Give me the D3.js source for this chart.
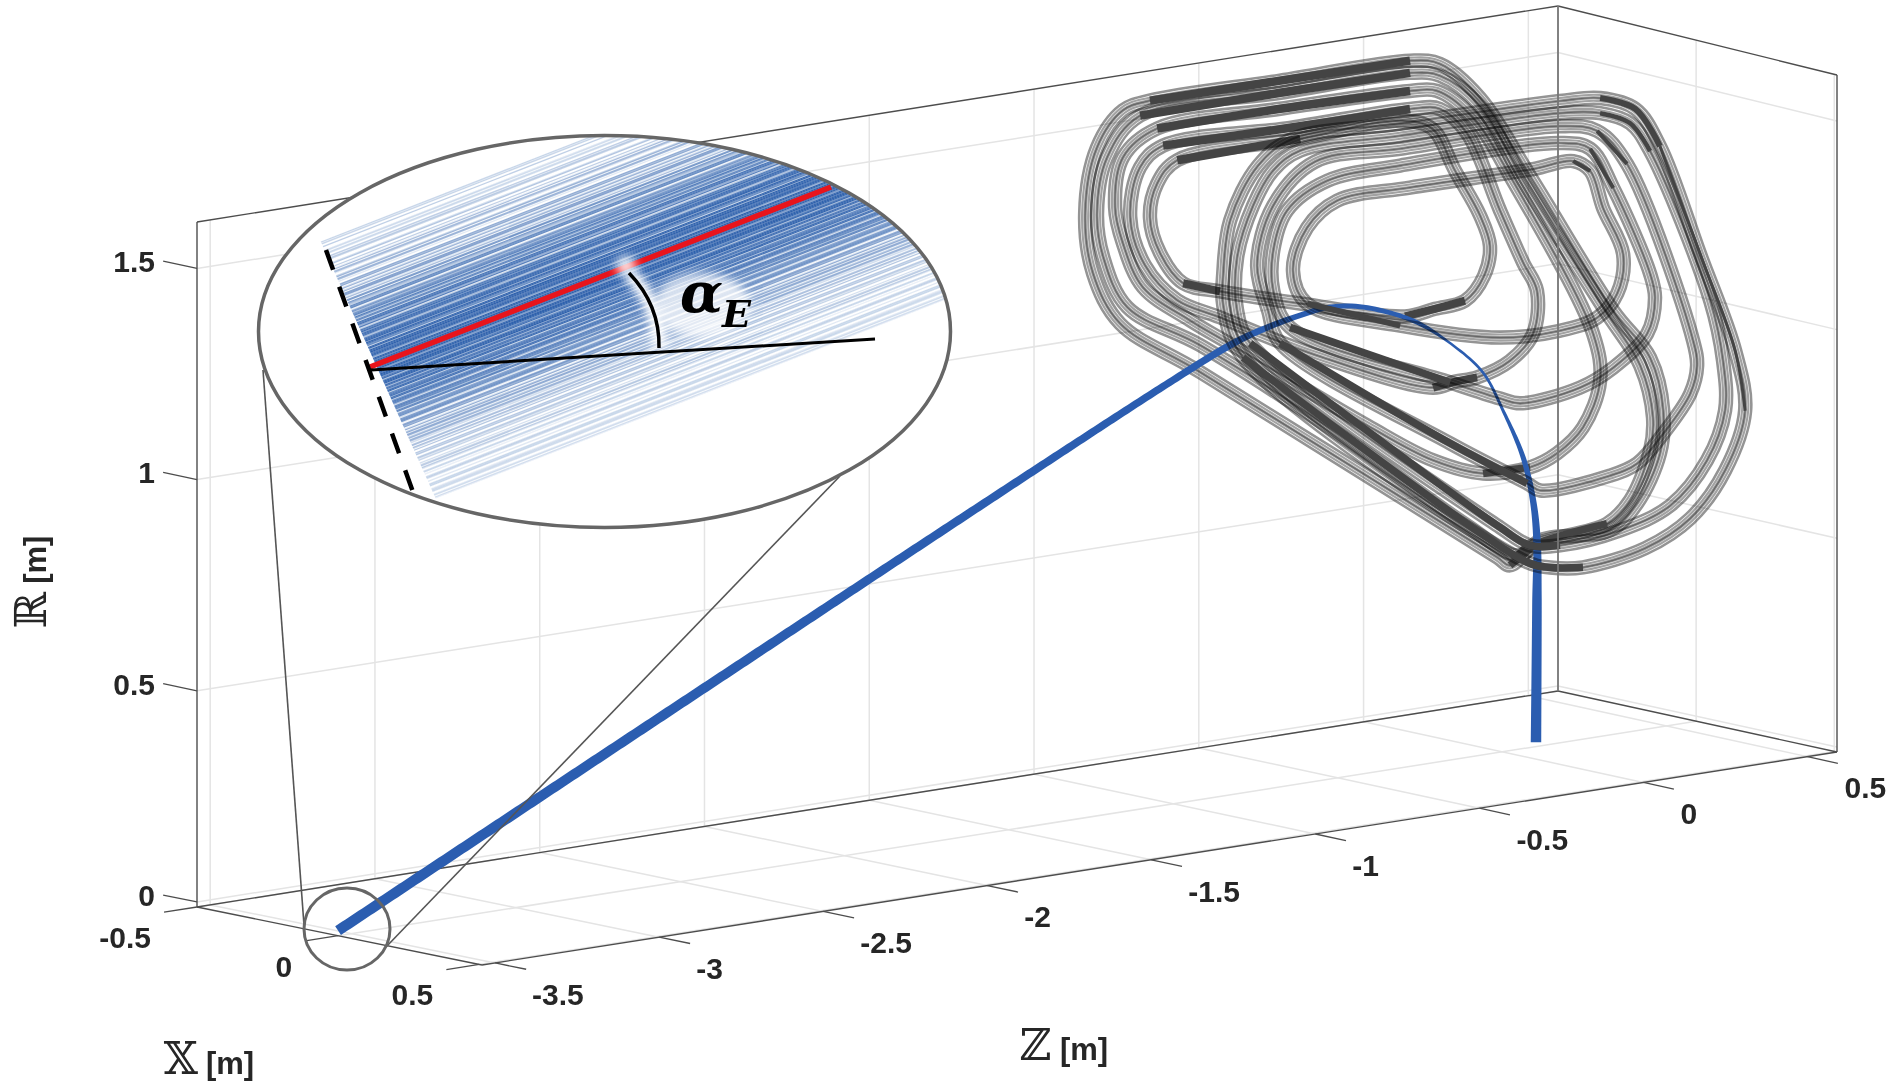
<!DOCTYPE html>
<html>
<head>
<meta charset="utf-8">
<script src="https://cdn.jsdelivr.net/npm/d3@7"></script>
<style>
  html, body { margin: 0; background: #fff; }
  text { font-family: "Liberation Sans", Arial, sans-serif; font-weight: bold; fill: #262626; }
</style>
</head>
<body>
<div id="chart"></div>
<script>
const width = 1891;
const height = 1088;

// axis ticks
const xTicks = [-0.5, 0, 0.5];
const zTicks = [-3.5, -3, -2.5, -2, -1.5, -1, -0.5, 0, 0.5];
const rTicks = [0, 0.5, 1, 1.5];

// beam centre line, plane x = 0
const beamZ = [-3.54, -1.049, -0.818, -0.721, -0.614, -0.532, -0.432, -0.271, -0.149, -0.058, 0.003, 0.064, 0.094, 0.106, 0.106, 0.103];
const beamR = [0, 0.978, 1.061, 1.085, 1.103, 1.111, 1.101, 1.048, 0.974, 0.898, 0.8, 0.681, 0.575, 0.478, 0.336, -0.002];

// coil set behind, innermost first
const back1Z = [-0.988, -0.614, -0.31, -0.213, -0.143, -0.067, -0.037, -0.055, -0.113, -0.204, -0.295, -0.614, -0.858, -0.97, -1.04, -1.071, -1.049];
const back1R = [1.518, 1.523, 1.529, 1.498, 1.389, 1.273, 1.197, 1.128, 1.076, 1.068, 1.061, 1.131, 1.19, 1.223, 1.303, 1.392, 1.47];
const back2Z = [-1.031, -0.645, -0.28, -0.189, -0.106, -0.006, 0.064, 0.106, 0.094, 0.024, -0.076, -0.143, -0.21, -0.563, -0.858, -0.988, -1.086, -1.131, -1.101];
const back2R = [1.558, 1.553, 1.553, 1.542, 1.473, 1.277, 1.145, 1.073, 0.972, 0.916, 0.889, 0.887, 0.881, 1.001, 1.128, 1.185, 1.28, 1.4, 1.515];
const back3Z = [-1.049, -0.675, -0.28, -0.198, -0.088, 0.033, 0.277, 0.298, 0.246, 0.167, 0.085, -0.058, -0.21, -0.411, -0.836, -0.949, -1.092, -1.153, -1.177, -1.153];
const back3R = [1.601, 1.602, 1.596, 1.586, 1.508, 1.343, 0.949, 0.835, 0.73, 0.678, 0.655, 0.658, 0.708, 0.816, 1.066, 1.132, 1.228, 1.34, 1.429, 1.545];
const back4Z = [-1.101, -0.675, -0.28, -0.189, -0.067, 0.064, 0.313, 0.42, 0.459, 0.45, 0.389, 0.319, 0.116, 0.046, -0.106, -0.514, -0.918, -1.14, -1.213, -1.232, -1.201];
const back4R = [1.638, 1.64, 1.639, 1.621, 1.534, 1.34, 1, 0.856, 0.727, 0.65, 0.539, 0.492, 0.472, 0.45, 0.54, 0.817, 1.069, 1.187, 1.315, 1.421, 1.551];
const back5Z = [-1.071, -0.675, -0.28, -0.189, -0.067, 0.094, 0.338, 0.45, 0.49, 0.48, 0.411, 0.328, 0.116, 0.024, -0.015, -0.918, -1.162, -1.244, -1.268, -1.232, -1.153];
const back5R = [1.67, 1.669, 1.668, 1.649, 1.553, 1.336, 0.997, 0.871, 0.74, 0.639, 0.529, 0.475, 0.477, 0.429, 0.453, 1.005, 1.151, 1.28, 1.426, 1.578, 1.657];

// coil set in front, innermost first
const front1Z = [-0.502, -0.28, 0.094, 0.216, 0.268, 0.307, 0.368, 0.35, 0.289, 0.176, -0.006, -0.31, -0.593, -0.636, -0.593];
const front1R = [1.362, 1.366, 1.364, 1.368, 1.338, 1.245, 1.128, 1.036, 0.986, 0.969, 0.975, 1.041, 1.128, 1.212, 1.309];
const front2Z = [-0.532, -0.31, 0.176, 0.268, 0.338, 0.45, 0.465, 0.441, 0.338, 0.237, 0.055, -0.006, -0.158, -0.645, -0.696, -0.696, -0.654];
const front2R = [1.413, 1.422, 1.416, 1.391, 1.289, 1.071, 1.012, 0.929, 0.861, 0.826, 0.811, 0.83, 0.887, 1.078, 1.172, 1.267, 1.357];
const front3Z = [-0.569, -0.31, 0.176, 0.289, 0.38, 0.581, 0.593, 0.572, 0.49, 0.411, 0.328, 0.116, 0.076, -0.158, -0.675, -0.712, -0.745, -0.696];
const front3R = [1.463, 1.462, 1.456, 1.431, 1.341, 0.895, 0.834, 0.77, 0.685, 0.624, 0.605, 0.596, 0.618, 0.742, 1.044, 1.127, 1.238, 1.374];
const front4Z = [-0.614, -0.31, 0.176, 0.298, 0.389, 0.45, 0.633, 0.672, 0.678, 0.623, 0.511, 0.359, 0.176, 0.085, -0.006, -0.766, -0.806, -0.806, -0.757, -0.696];
const front4R = [1.495, 1.493, 1.487, 1.472, 1.437, 1.363, 0.984, 0.836, 0.717, 0.605, 0.511, 0.471, 0.458, 0.469, 0.523, 1.055, 1.138, 1.264, 1.382, 1.458];
const front5Z = [-0.636, -0.31, 0.176, 0.298, 0.405, 0.48, 0.602, 0.709, 0.739, 0.678, 0.572, 0.435, 0.246, 0.146, 0.076, -0.788, -0.848, -0.848, -0.827, -0.742];
const front5R = [1.526, 1.522, 1.516, 1.508, 1.469, 1.371, 1.099, 0.855, 0.709, 0.574, 0.473, 0.419, 0.397, 0.409, 0.43, 1.024, 1.155, 1.231, 1.355, 1.475];

// point index ranges where a coil reads as a dark band: from, to, thickness
const back1Dark = [[0, 1, 8.5], [8, 10, 8], [12, 13, 8]];
const back2Dark = [[0, 2, 8.5], [10, 12, 8]];
const back3Dark = [[0, 2, 8.5], [10, 11, 7.5]];
const back4Dark = [[0, 2, 8.5], [11, 13, 7.5]];
const back5Dark = [[0, 2, 8.5], [12, 13, 7.5]];
const front1Dark = [[3, 4, 4], [11, 12, 6]];
const front2Dark = [[3, 4, 4], [12, 13, 7.5]];
const front3Dark = [[3, 4, 4], [12, 14, 7.5]];
const front4Dark = [[3, 5, 4.5], [12, 15, 7.5]];
const front5Dark = [[3, 5, 6], [5, 8, 3], [12, 15, 7.5]];

// inset: strength of each ray, from the top of the dashed line to the bottom
const rayAlpha = [
  .25, .25, .0, .0, .0, .2, .2, .0, .3, .3,
  .0, .0, .35, .0, .0, .4, .4, .1, .0, .45,
  .45, .0, .0, .5, .5, .2, .0, .45, .55, .55,
  .1, .0, .6, .6, .3, .7, .7, .15, .6, .6,
  .75, .8, .25, .7, .85, .85, .4, .1, .8, .9,
  .9, .85, .3, .9, .95, .95, .6, .2, .95, 1,
  1, .85, .95, .4, .95, 1, 1, .9, .95, 1,
  .5, 1, 1, .95, .8, .3, .95, 1, .9, .35,
  .85, .9, .2, .75, .85, .85, .15, .8, .75, .1,
  .75, .7, .7, .05, .6, .65, .1, .6, .6, .0,
  .55, .55, .15, .0, .5, .5, .0, .45, .45, .1,
  .0, .38, .38, .0, .0, .32, .32, .0, .25, .25,
  .0, .0, .3, .3, .0, .22, .0, .0, .2, .2,
  .0, .0, .22, .22, .0, .18, .18, .0, .2, .2
];
// the rays lying between those above
const rayAlphaBetween = [
  .1, .0, .3, .0, .15, .0, .2, .0, .1, .25,
  .0, .2, .0, .3, .1, .0, .35, .0, .25, .0,
  .4, .15, .0, .35, .0, .45, .2, .0, .5, .1,
  .4, .55, .0, .45, .25, .6, .0, .55, .35, .65,
  .3, .6, .7, .2, .75, .5, .8, .3, .7, .6,
  .85, .4, .75, .9, .5, .85, .7, .95, .45, .9,
  .8, .95, .6, 1, .7, .9, .5, .95, .85, .65,
  .95, .8, 1, .6, .9, .7, .95, .5, .85, .8,
  .55, .9, .7, .8, .35, .85, .6, .75, .4, .7,
  .65, .3, .7, .5, .6, .2, .55, .65, .1, .5,
  .4, .0, .5, .3, .1, .45, .3, .0, .4, .2,
  .3, .0, .25, .35, .0, .2, .0, .3, .1, .0,
  .2, .25, .0, .15, .0, .2, .1, .0, .25, .0,
  .15, .0, .2, .0, .12, .2, .0, .15, .0, .1
];

const svg = d3.select("#chart").append("svg")
  .attr("width", width)
  .attr("height", height)
  .style("display", "block");

const defs = svg.append("defs");
defs.append("filter").attr("id", "glow")
  .attr("x", "-50%").attr("y", "-50%").attr("width", "200%").attr("height", "200%")
  .append("feGaussianBlur").attr("stdDeviation", 5);
defs.append("filter").attr("id", "soft")
  .append("feGaussianBlur").attr("stdDeviation", 0.4);

// box corners on screen: floor corners and the height of each upright
const xDomain = [-0.5, 0.51];
const zDomain = [-3.54, 0.59];
const rDomain = [-0.012, 1.61];
const uScale = d3.scaleLinear().domain(xDomain).range([0, 1]);
const vScale = d3.scaleLinear().domain(zDomain).range([0, 1]);
const wScale = d3.scaleLinear().domain(rDomain).range([0, 1]);
const cornerL = { x: 197, y: 907, h: 685 };  // x min, z min
const cornerF = { x: 482, y: 965, h: 680 };  // x max, z min
const cornerB = { x: 1558, y: 691, h: 685 }; // x min, z max
const cornerR = { x: 1837, y: 752, h: 677 }; // x max, z max

function bilerp(key, u, v) {
  const a = cornerL[key] + (cornerF[key] - cornerL[key]) * u;
  const b = cornerB[key] + (cornerR[key] - cornerB[key]) * u;
  return a + (b - a) * v;
}

function project(x, z, r) {
  const u = uScale(x), v = vScale(z), w = wScale(r);
  return [bilerp("x", u, v), bilerp("y", u, v) - bilerp("h", u, v) * w];
}

const [xMin, xMax] = xDomain;
const [zMin, zMax] = zDomain;
const [rMin, rMax] = rDomain;

function seg(g, a, b, color, w) {
  return g.append("line")
    .attr("x1", a[0]).attr("y1", a[1])
    .attr("x2", b[0]).attr("y2", b[1])
    .attr("stroke", color)
    .attr("stroke-width", w);
}

// grid on the floor and the two back walls
const grid = svg.append("g");
const gridColor = "#e4e4e4";
zTicks.forEach(z => {
  seg(grid, project(xMin, z, rMin), project(xMin, z, rMax), gridColor, 1.5);
  seg(grid, project(xMin, z, rMin), project(xMax, z, rMin), gridColor, 1.5);
});
xTicks.forEach(x => {
  seg(grid, project(x, zMax, rMin), project(x, zMax, rMax), gridColor, 1.5);
  seg(grid, project(x, zMin, rMin), project(x, zMax, rMin), gridColor, 1.5);
});
rTicks.forEach(r => {
  seg(grid, project(xMin, zMin, r), project(xMin, zMax, r), gridColor, 1.5);
  seg(grid, project(xMin, zMax, r), project(xMax, zMax, r), gridColor, 1.5);
});

// box outline
const box = svg.append("g");
const boxColor = "#4d4d4d";
[
  [[xMin, zMin, rMin], [xMin, zMin, rMax]],
  [[xMin, zMin, rMax], [xMin, zMax, rMax]],
  [[xMin, zMax, rMax], [xMax, zMax, rMax]],
  [[xMax, zMax, rMax], [xMax, zMax, rMin]],
  [[xMin, zMin, rMin], [xMax, zMin, rMin]],
  [[xMax, zMin, rMin], [xMax, zMax, rMin]],
  [[xMin, zMin, rMin], [xMin, zMax, rMin]],
  [[xMin, zMax, rMin], [xMax, zMax, rMin]]
].forEach(([a, b]) => seg(box, project(...a), project(...b), boxColor, 1.4));

// ticks and tick labels
const ticks = svg.append("g");
rTicks.forEach(r => {
  const p = project(xMin, zMin, r);
  seg(ticks, p, project(xMin - 0.12, zMin, r), boxColor, 1.3);
  ticks.append("text").attr("x", p[0] - 42).attr("y", p[1] - 7)
    .attr("dy", ".36em").attr("text-anchor", "end").attr("font-size", 30)
    .text(r);
});
xTicks.forEach(x => {
  const p = project(x, zMin, rMin);
  seg(ticks, p, project(x, zMin - 0.1, rMin), boxColor, 1.3);
  ticks.append("text").attr("x", p[0] - 46).attr("y", p[1] + 30)
    .attr("dy", ".36em").attr("text-anchor", "end").attr("font-size", 30)
    .text(x);
});
zTicks.forEach(z => {
  const p = project(xMax, z, rMin);
  seg(ticks, p, project(xMax + 0.11, z, rMin), boxColor, 1.3);
  ticks.append("text").attr("x", p[0] + 37).attr("y", p[1] + 31)
    .attr("dy", ".36em").attr("text-anchor", "start").attr("font-size", 30)
    .text(z);
});

// axis titles
function axisTitle(x, y, symbol, rotate) {
  const t = svg.append("text")
    .attr("transform", `translate(${x},${y})` + (rotate ? " rotate(-90)" : ""))
    .attr("font-size", 31)
    .attr("text-anchor", "middle");
  t.append("tspan")
    .style("font-family", "'DejaVu Serif', 'DejaVu Sans'")
    .style("font-weight", "normal")
    .attr("font-size", 44)
    .text(symbol);
  t.append("tspan").attr("dx", 8).text("[m]");
}
axisTitle(209, 1074, "\u{1D54F}", false);
axisTitle(1064, 1060, "\u2124", false);
axisTitle(46, 582, "\u211D", true);

// coils
const coilX = 0;
const closedLine = d3.line().curve(d3.curveCatmullRomClosed.alpha(0.5));
const openLine = d3.line().curve(d3.curveCatmullRom.alpha(0.5));
const bandLayers = [[14.5, "#949494"], [9.4, "#fafafa"], [8.2, "#a2a2a2"], [4, "#f2f2f2"], [3.2, "#949494"], [1.2, "#666"]];

function coilPoints(zs, rs) {
  return zs.map((z, i) => project(coilX, z, rs[i]));
}

function drawBands(group, zs, rs) {
  const pts = coilPoints(zs, rs);
  // multiply so that crossing bands darken as they do in the picture
  const g = group.append("g").style("mix-blend-mode", "multiply");
  bandLayers.forEach(([w, color]) => {
    g.append("path")
      .attr("d", closedLine(pts))
      .attr("fill", "none")
      .attr("stroke", color)
      .attr("stroke-width", w);
  });
}

function drawDark(group, zs, rs, darkRanges) {
  const pts = coilPoints(zs, rs);
  darkRanges.forEach(([a, b, w]) => {
    group.append("path")
      .attr("d", openLine(pts.slice(a, b + 1)))
      .attr("fill", "none")
      .attr("stroke", "#444")
      .attr("stroke-width", w);
  });
}

const backCoils = svg.append("g");
drawBands(backCoils, back5Z, back5R);
drawBands(backCoils, back4Z, back4R);
drawBands(backCoils, back3Z, back3R);
drawBands(backCoils, back2Z, back2R);
drawBands(backCoils, back1Z, back1R);
drawDark(backCoils, back5Z, back5R, back5Dark);
drawDark(backCoils, back4Z, back4R, back4Dark);
drawDark(backCoils, back3Z, back3R, back3Dark);
drawDark(backCoils, back2Z, back2R, back2Dark);
drawDark(backCoils, back1Z, back1R, back1Dark);

// beam, tapering along its length
const beamPts = beamZ.map((z, i) => project(coilX, z, beamR[i]));
const beamGuide = svg.append("path")
  .attr("d", openLine(beamPts))
  .attr("fill", "none")
  .attr("stroke", "none");
const beamWidth = d3.scaleLinear()
  .domain([0, 500, 1071, 1144, 1260, 1300, 1389, 1440, 1525, 1585, 1730])
  .range([10.5, 9.5, 7, 5.5, 4.5, 2.5, 3, 5, 7.5, 9.5, 10.5])
  .clamp(true);
const beamLen = beamGuide.node().getTotalLength();
const beamLeft = [], beamRight = [];
d3.range(0, beamLen, 4).concat(beamLen).forEach(l => {
  const a = beamGuide.node().getPointAtLength(Math.max(0, l - 1));
  const b = beamGuide.node().getPointAtLength(Math.min(beamLen, l + 1));
  const p = beamGuide.node().getPointAtLength(l);
  const dx = b.x - a.x, dy = b.y - a.y, n = Math.hypot(dx, dy) || 1;
  const w = beamWidth(l) / 2;
  beamLeft.push([p.x - dy / n * w, p.y + dx / n * w]);
  beamRight.push([p.x + dy / n * w, p.y - dx / n * w]);
});
svg.append("path")
  .attr("d", d3.line()(beamLeft.concat(beamRight.reverse())) + "Z")
  .attr("fill", "#2b5db0");

const frontCoils = svg.append("g");
drawBands(frontCoils, front5Z, front5R);
drawBands(frontCoils, front4Z, front4R);
drawBands(frontCoils, front3Z, front3R);
drawBands(frontCoils, front2Z, front2R);
drawBands(frontCoils, front1Z, front1R);
drawDark(frontCoils, front5Z, front5R, front5Dark);
drawDark(frontCoils, front4Z, front4R, front4Dark);
drawDark(frontCoils, front3Z, front3R, front3Dark);
drawDark(frontCoils, front2Z, front2R, front2Dark);
drawDark(frontCoils, front1Z, front1R, front1Dark);

// back upright shows through the coils
const upA = project(xMin, zMax, rMin);
const upB = project(xMin, zMax, rMax);
seg(svg, upA, upB, "#777", 1.8);

// magnifier lens and the lines leading to it
const lens = { cx: 604.5, cy: 331.5, rx: 346, ry: 196 };
const spot = { cx: 347, cy: 929, rx: 43, ry: 41 };
const lensColor = "#666";
seg(svg, [263, 370], [304, 925], "#555", 1.6);
seg(svg, [840, 476], [386, 947], "#555", 1.6);
svg.append("ellipse").attr("cx", spot.cx).attr("cy", spot.cy).attr("rx", spot.rx).attr("ry", spot.ry)
  .attr("fill", "none").attr("stroke", lensColor).attr("stroke-width", 3);
svg.append("ellipse").attr("cx", lens.cx).attr("cy", lens.cy).attr("rx", lens.rx).attr("ry", lens.ry)
  .attr("fill", "#fff");

defs.append("clipPath").attr("id", "lens-clip")
  .append("ellipse").attr("cx", lens.cx).attr("cy", lens.cy).attr("rx", lens.rx).attr("ry", lens.ry);

const inset = svg.append("g").attr("clip-path", "url(#lens-clip)");
const raySlope = -0.39;
const rayX = d3.scaleLinear().domain([0, rayAlpha.length - 1]).range([321, 435]);
const rayY = d3.scaleLinear().domain([0, rayAlpha.length - 1]).range([242, 497]);
const rayGroup = inset.append("g").attr("filter", "url(#soft)");
function drawRays(alphas, shift) {
  rayGroup.append("g").selectAll("line")
    .data(alphas)
    .join("line")
    .attr("x1", (d, i) => rayX(i + shift))
    .attr("y1", (d, i) => rayY(i + shift))
    .attr("x2", (d, i) => rayX(i + shift) + 700)
    .attr("y2", (d, i) => rayY(i + shift) + 700 * raySlope)
    .attr("stroke", "#2f62ad")
    .attr("stroke-opacity", d => d)
    .attr("stroke-width", 1.25);
}
drawRays(rayAlpha, 0);
drawRays(rayAlphaBetween, 0.5);

// white glow behind the angle mark
const arcPath = "M629,273 Q660,305 659,348";
inset.append("path").attr("d", arcPath).attr("fill", "none")
  .attr("stroke", "#fff").attr("stroke-width", 14).attr("filter", "url(#glow)");
inset.append("ellipse").attr("cx", 702).attr("cy", 305).attr("rx", 48).attr("ry", 32)
  .attr("fill", "#fff").attr("opacity", 0.75).attr("filter", "url(#glow)");

seg(inset, [370, 367], [831, 187], "#e8141c", 5.5);
inset.append("circle").attr("cx", 626).attr("cy", 266).attr("r", 10)
  .attr("fill", "#fff").attr("opacity", 0.85).attr("filter", "url(#glow)");
seg(inset, [371, 370], [875, 339], "#000", 3);
inset.append("path").attr("d", arcPath).attr("fill", "none")
  .attr("stroke", "#000").attr("stroke-width", 3.5);
seg(inset, [326, 250], [413, 492], "#000", 4.5).attr("stroke-dasharray", "21 18");

svg.append("ellipse").attr("cx", lens.cx).attr("cy", lens.cy).attr("rx", lens.rx).attr("ry", lens.ry)
  .attr("fill", "none").attr("stroke", lensColor).attr("stroke-width", 3.5);

svg.append("text").attr("x", 680).attr("y", 312)
  .style("font-family", "'DejaVu Serif'").style("font-style", "italic").style("fill", "#000")
  .attr("font-size", 56).text("\u03B1");
svg.append("text").attr("x", 722).attr("y", 327)
  .style("font-family", "'DejaVu Serif'").style("font-style", "italic").style("fill", "#000")
  .attr("font-size", 38).text("E");
</script>
</body>
</html>
